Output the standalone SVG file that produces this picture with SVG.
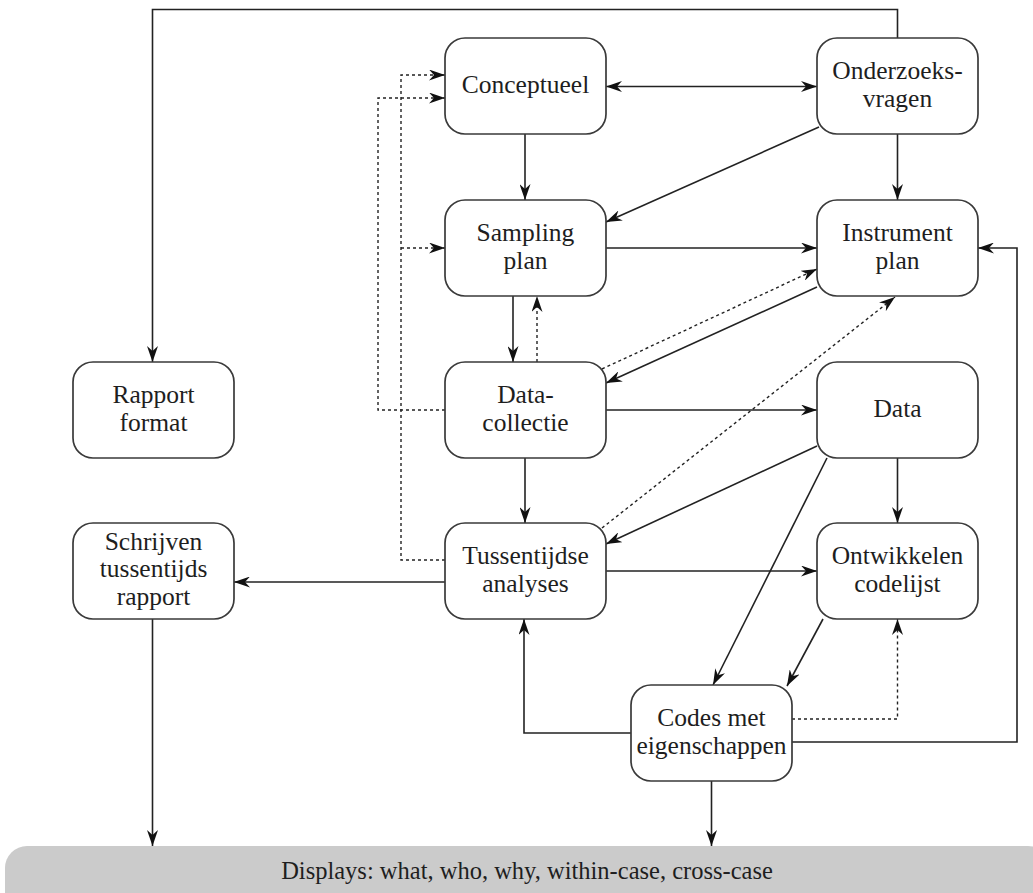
<svg xmlns="http://www.w3.org/2000/svg" width="1033" height="893" viewBox="0 0 1033 893">
<style>
.nb{fill:#fff;stroke:#3a3a3a;stroke-width:1.7}
.t{font-family:"Liberation Serif","Times New Roman",serif;font-size:25.5px;fill:#1e1e1e;text-anchor:middle}
.c{fill:none;stroke:#222;stroke-width:1.6}
.a{marker-end:url(#ah)}
.d{stroke-dasharray:3,3;stroke-width:1.4}
</style>
<defs>
<marker id="ah" viewBox="0 0 16 11" refX="16" refY="5.5" markerWidth="16" markerHeight="11" markerUnits="userSpaceOnUse" orient="auto-start-reverse">
<path d="M0,0 L16,5.5 L0,11 L5,5.5 Z" fill="#111"/>
</marker>
</defs>
<rect id="banner" x="5" y="846" width="1045" height="70" rx="22" fill="#cbcbcb"/>
<text class="t" x="527" y="879" style="font-size:24.5px">Displays: what, who, why, within-case, cross-case</text>
<g id="connectors">
<path class="c a" d="M897.5,38 V9.5 H152.5 V362"/>
<path class="c a" d="M606,86.5 H817" marker-start="url(#ah)"/>
<path class="c a" d="M525,134 V200"/>
<path class="c a" d="M819,127 L606,222"/>
<path class="c a" d="M897.5,134 V200"/>
<path class="c a" d="M606,248 H817"/>
<path class="c a" d="M513,296 V362"/>
<path class="c d a" d="M537,362 V296"/>
<path class="c a" d="M817,287 L606,383"/>
<path class="c d a" d="M602,369 L817,269"/>
<path class="c a" d="M606,410 H817"/>
<path class="c a" d="M525,458 V523"/>
<path class="c d a" d="M445,410 H378 V98 H445"/>
<path class="c d a" d="M445,560 H401 V75 H445"/>
<path class="c d a" d="M401,248 H445"/>
<path class="c a" d="M445,582 H234"/>
<path class="c a" d="M606,571 H817"/>
<path class="c a" d="M817,446 L606,544"/>
<path class="c d a" d="M602,528 L895,297"/>
<path class="c a" d="M897.5,458 V523"/>
<path class="c a" d="M827,458 L713,685"/>
<path class="c a" d="M823,619 L787,686"/>
<path class="c d a" d="M792,719 H897.5 V619"/>
<path class="c a" d="M792,742 H1017 V248 H978"/>
<path class="c a" d="M631,733 H524 V619"/>
<path class="c a" d="M711.5,781 V846"/>
<path class="c a" d="M152.5,619 V846"/>
</g>
<g id="conceptueel"><rect class="nb" x="445" y="38" width="161" height="96" rx="20"/><text class="t" x="525.5" y="93">Conceptueel</text></g>
<g id="onderzoeksvragen"><rect class="nb" x="817" y="38" width="161" height="96" rx="20"/><text class="t" x="897.5" y="79">Onderzoeks-</text><text class="t" x="897.5" y="106.5">vragen</text></g>
<g id="sampling"><rect class="nb" x="445" y="200" width="161" height="96" rx="20"/><text class="t" x="525.5" y="241">Sampling</text><text class="t" x="525.5" y="268.5">plan</text></g>
<g id="instrument"><rect class="nb" x="817" y="200" width="161" height="96" rx="20"/><text class="t" x="897.5" y="241">Instrument</text><text class="t" x="897.5" y="268.5">plan</text></g>
<g id="rapport"><rect class="nb" x="73" y="362" width="161" height="96" rx="20"/><text class="t" x="153.5" y="403">Rapport</text><text class="t" x="153.5" y="430.5">format</text></g>
<g id="datacollectie"><rect class="nb" x="445" y="362" width="161" height="96" rx="20"/><text class="t" x="525.5" y="403">Data-</text><text class="t" x="525.5" y="430.5">collectie</text></g>
<g id="data"><rect class="nb" x="817" y="362" width="161" height="96" rx="20"/><text class="t" x="897.5" y="417">Data</text></g>
<g id="schrijven"><rect class="nb" x="73" y="523" width="161" height="96" rx="20"/><text class="t" x="153.5" y="549.5">Schrijven</text><text class="t" x="153.5" y="577">tussentijds</text><text class="t" x="153.5" y="604.5">rapport</text></g>
<g id="tussentijdse"><rect class="nb" x="445" y="523" width="161" height="96" rx="20"/><text class="t" x="525.5" y="564">Tussentijdse</text><text class="t" x="525.5" y="591.5">analyses</text></g>
<g id="ontwikkelen"><rect class="nb" x="817" y="523" width="161" height="96" rx="20"/><text class="t" x="897.5" y="564">Ontwikkelen</text><text class="t" x="897.5" y="591.5">codelijst</text></g>
<g id="codes"><rect class="nb" x="631" y="685" width="161" height="96" rx="20"/><text class="t" x="711.5" y="726">Codes met</text><text class="t" x="711.5" y="753.5">eigenschappen</text></g>
</svg>
